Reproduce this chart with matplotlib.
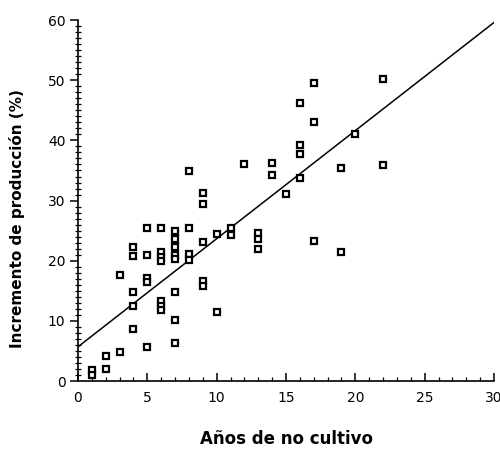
import matplotlib
matplotlib.use("Agg")
import matplotlib.pyplot as plt
from matplotlib.ticker import MultipleLocator

# Data
years = [1, 1, 2, 2, 3, 3,
         4, 4, 4, 4, 4,
         5, 5, 5, 5, 5,
         6, 6, 6, 6, 6, 6, 6,
         7, 7, 7, 7, 7, 7, 7, 7,
         8, 8, 8, 8,
         9, 9, 9, 9, 9,
         10, 10, 11, 11, 12,
         13, 13, 13, 14, 14, 15,
         16, 16, 16, 16,
         17, 17, 17,
         19, 19, 20, 22, 22]
increase = [1.8, 1.0, 4.2, 2.0, 4.8, 17.6,
            22.3, 20.8, 14.8, 12.5, 8.6,
            25.4, 21.0, 17.1, 16.4, 5.6,
            25.4, 21.4, 20.6, 19.9, 13.3, 12.5, 11.8,
            24.9, 23.6, 22.3, 21.0, 20.3, 14.8, 10.2, 6.4,
            34.9, 25.5, 21.2, 20.2,
            31.2, 29.4, 23.1, 16.6, 15.8,
            24.4, 11.5, 25.5, 24.3, 36.0,
            24.6, 23.6, 21.9, 36.3, 34.2, 31.1,
            46.3, 39.3, 37.8, 33.7,
            49.5, 43.0, 23.3,
            35.4, 21.5, 41.0, 50.2, 35.9]

fit_x = [0, 30]
fit_y = [5.7, 59.6]

x_ticks = [0, 5, 10, 15, 20, 25, 30]
y_ticks = [0, 10, 20, 30, 40, 50, 60]

fig = plt.figure(figsize=(5.0, 4.51), dpi=100)
ax = fig.add_axes([0.156, 0.155, 0.832, 0.8005])

ax.plot(fit_x, fit_y, color="black", lw=1.1, zorder=2)
ax.plot(years, increase, ls="none", marker="s", markersize=5,
        markerfacecolor="white", markeredgecolor="black",
        markeredgewidth=1.6, zorder=3)

ax.set_xlim(0, 30)
ax.set_ylim(0, 60)
ax.set_xticks(x_ticks)
ax.set_yticks(y_ticks)
ax.xaxis.set_minor_locator(MultipleLocator(1))
ax.yaxis.set_minor_locator(MultipleLocator(1))

for s in ["top", "right"]:
    ax.spines[s].set_visible(False)
for s in ["left", "bottom"]:
    ax.spines[s].set_linewidth(1.2)

ax.tick_params(axis="x", which="major", direction="in", length=6, width=1.1,
               labelsize=10, pad=7)
ax.tick_params(axis="x", which="minor", direction="in", length=3, width=0.9)
ax.tick_params(axis="y", which="major", direction="out", length=6, width=1.1,
               labelsize=10, pad=3)
ax.tick_params(axis="y", which="minor", direction="inout", length=4, width=0.9)

ax.set_xlabel("Años de no cultivo", fontsize=12, fontweight="bold")
ax.set_ylabel("Incremento de producción (%)", fontsize=11, fontweight="bold")
ax.xaxis.set_label_coords(0.5, -0.136)
ax.yaxis.set_label_coords(-0.128, 0.45)

fig.savefig("out.png", dpi=100)
